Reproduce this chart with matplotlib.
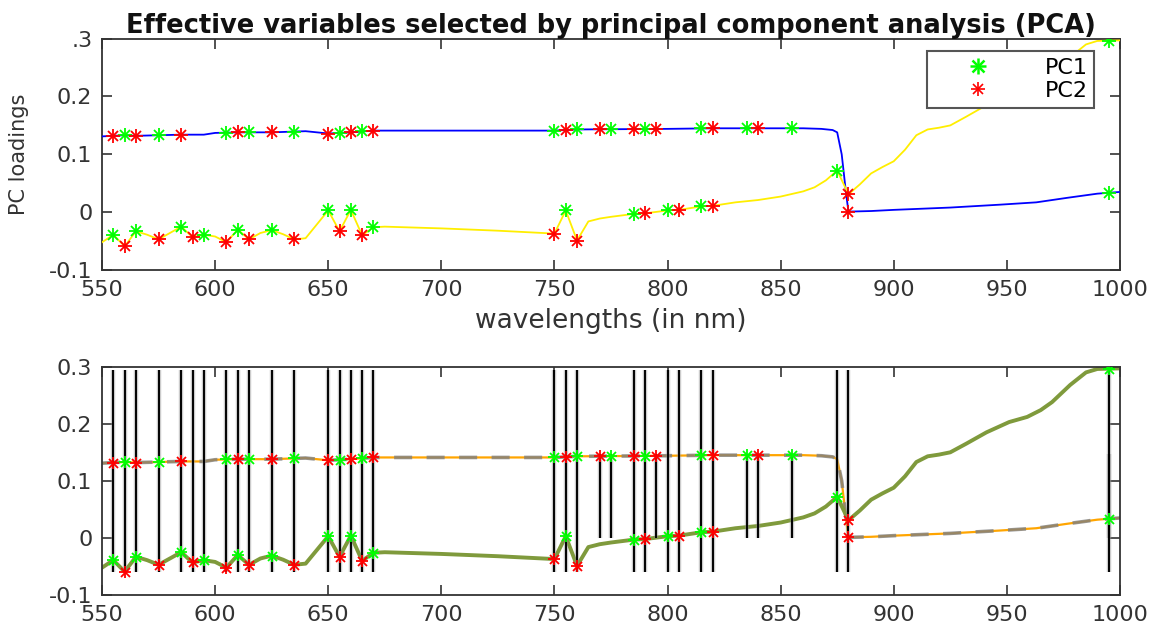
import numpy as np
import matplotlib
matplotlib.use('Agg')
import matplotlib.pyplot as plt
from matplotlib.lines import Line2D

plt.rcParams['font.family'] = 'DejaVu Sans'
plt.rcParams['axes.unicode_minus'] = False

# PC loading curves (wavelength in nm, loading)
wl_a = [550, 555, 560, 565, 575, 585, 595, 600, 610, 625, 640, 645, 650, 655, 660, 670,
        700, 750, 760, 800, 820, 860, 868, 873, 875, 877, 879, 880, 890, 900, 925,
        947, 963, 977, 990, 1000]
load_a = [0.131, 0.132, 0.133, 0.132, 0.133, 0.134, 0.134, 0.137, 0.138, 0.138, 0.140,
          0.138, 0.136, 0.137, 0.138, 0.141, 0.141, 0.141, 0.143, 0.144, 0.145, 0.145,
          0.144, 0.142, 0.138, 0.100, 0.030, 0.001, 0.002, 0.004, 0.008, 0.013, 0.017,
          0.025, 0.032, 0.035]

wl_b = [550, 555, 560, 565, 570, 575, 580, 585, 590, 595, 600, 605, 610, 615, 620, 625,
        630, 635, 640, 650, 655, 660, 665, 670, 675, 700, 725, 750, 755, 760, 765, 770,
        775, 785, 790, 800, 805, 815, 820, 830, 840, 850, 860, 865, 870, 875, 880, 885,
        890, 895, 900, 905, 910, 915, 920, 925, 932, 941, 951, 959, 965, 970, 978, 985,
        990, 1000]
load_b = [-0.052, -0.039, -0.059, -0.033, -0.039, -0.047, -0.036, -0.025, -0.043, -0.039,
          -0.042, -0.052, -0.030, -0.047, -0.036, -0.031, -0.038, -0.047, -0.045, 0.003,
          -0.033, 0.004, -0.040, -0.026, -0.025, -0.028, -0.032, -0.037, 0.003, -0.049,
          -0.016, -0.011, -0.008, -0.003, -0.002, 0.003, 0.004, 0.010, 0.011, 0.017,
          0.021, 0.027, 0.036, 0.043, 0.055, 0.072, 0.031, 0.048, 0.067, 0.078, 0.088,
          0.108, 0.133, 0.143, 0.146, 0.150, 0.165, 0.185, 0.203, 0.212, 0.224, 0.238,
          0.268, 0.290, 0.296, 0.297]

# selected wavelengths, marked on each curve
a_pc1 = [560, 575, 605, 615, 635, 655, 665, 750, 760, 775, 790, 815, 835, 855, 995]
a_pc2 = [555, 565, 585, 610, 625, 650, 660, 670, 755, 770, 785, 795, 820, 840, 880]
b_pc1 = [555, 565, 585, 595, 610, 625, 650, 660, 670, 755, 785, 800, 815, 875, 995]
b_pc2 = [560, 575, 590, 605, 615, 635, 655, 665, 750, 760, 790, 805, 820, 880]

# vertical selection lines in the lower panel
sel_full = [555, 560, 565, 575, 585, 590, 595, 605, 610, 615, 625, 635, 650, 655, 660,
            665, 670, 750, 755, 760, 785, 790, 800, 805, 815, 820, 875, 880, 995]
sel_short = [770, 775, 795, 835, 840, 855, 995]
full_range = (-0.06, 0.295)
short_range = (0.0, 0.147)

xticks = [550, 600, 650, 700, 750, 800, 850, 900, 950, 1000]
yticks = [-0.1, 0, 0.1, 0.2, 0.3]
ytick_top = ['-0.1', '0', '0.1', '0.2', '.3']
ytick_bot = ['-0.1', '0', '0.1', '0.2', '0.3']

c_green = '#00ff00'
c_red = '#ff0000'
c_axis = '#333333'


def asterisk(ax, x, y, color, size=10):
    # 8-arm asterisk made of '+' and 'x'
    ax.plot(x, y, ls='none', marker='+', ms=size, mew=1.3, color=color, zorder=6)
    ax.plot(x, y, ls='none', marker='x', ms=size * 0.72, mew=1.3, color=color, zorder=6)


def style_axes(ax, labels):
    ax.set_xlim(550, 1000)
    ax.set_ylim(-0.1, 0.3)
    ax.set_xticks(xticks)
    ax.set_yticks(yticks)
    ax.set_yticklabels(labels)
    ax.tick_params(direction='in', length=7, width=1.2, top=True, right=True,
                   labelsize=16, colors=c_axis, pad=7)
    for s in ax.spines.values():
        s.set_color(c_axis)
        s.set_linewidth(1.3)


fig = plt.figure(figsize=(11.62, 6.28), dpi=100)
ax1 = fig.add_axes([0.0878, 0.570, 0.876, 0.3685])
ax2 = fig.add_axes([0.0878, 0.0525, 0.876, 0.3636])

# ---- top panel
ax1.plot(wl_a, load_a, color='#0000ff', lw=1.3, zorder=3)
ax1.plot(wl_b, load_b, color='#ffee00', lw=1.3, zorder=3)
for w_a, w_b, col in [(a_pc1, b_pc1, c_green), (a_pc2, b_pc2, c_red)]:
    asterisk(ax1, w_a, np.interp(w_a, wl_a, load_a), col)
    asterisk(ax1, w_b, np.interp(w_b, wl_b, load_b), col)

style_axes(ax1, ytick_top)
ax1.set_xlabel('wavelengths (in nm)', fontsize=19, color=c_axis, labelpad=6)
ax1.set_ylabel('PC loadings', fontsize=15, color=c_axis, labelpad=14)
ax1.set_title('Effective variables selected by principal component analysis (PCA)',
              fontsize=18.5, fontweight='bold', color='#111111', pad=4)

h1 = (Line2D([], [], ls='none', marker='+', ms=12, mew=1.8, color=c_green),
      Line2D([], [], ls='none', marker='x', ms=9, mew=1.8, color=c_green))
h2 = (Line2D([], [], ls='none', marker='+', ms=10, mew=1.2, color=c_red),
      Line2D([], [], ls='none', marker='x', ms=7, mew=1.2, color=c_red))
leg = ax1.legend([h1, h2], ['PC1', 'PC2'], loc='upper right',
                 bbox_to_anchor=(0.975, 0.946), borderaxespad=0, fontsize=16,
                 fancybox=False, framealpha=1, edgecolor='#555555',
                 handlelength=4.0, handletextpad=1.0, borderpad=0.3,
                 labelspacing=0.15)
leg.get_frame().set_linewidth(1.5)

# ---- bottom panel
ax2.plot(wl_a, load_a, color='#ffa500', lw=1.6, zorder=2)
ax2.plot(wl_a, load_a, color='#7f7f7f', lw=2.6, dashes=(5, 4), alpha=0.8, zorder=2)
ax2.plot(wl_b, load_b, color='#7f9a3c', lw=2.8, zorder=2)

ax2.vlines(sel_full, *full_range, color='#8c8c8c', lw=3.2, alpha=0.45, zorder=3)
ax2.vlines(sel_full, *full_range, color='black', lw=1.4, zorder=3)
ax2.vlines(sel_short, *short_range, color='#8c8c8c', lw=3.2, alpha=0.45, zorder=3)
ax2.vlines(sel_short, *short_range, color='black', lw=1.4, zorder=3)

for w_a, w_b, col in [(a_pc1, b_pc1, c_green), (a_pc2, b_pc2, c_red)]:
    asterisk(ax2, w_a, np.interp(w_a, wl_a, load_a), col, size=9)
    asterisk(ax2, w_b, np.interp(w_b, wl_b, load_b), col, size=9)

style_axes(ax2, ytick_bot)

fig.savefig('out.png', dpi=100)
